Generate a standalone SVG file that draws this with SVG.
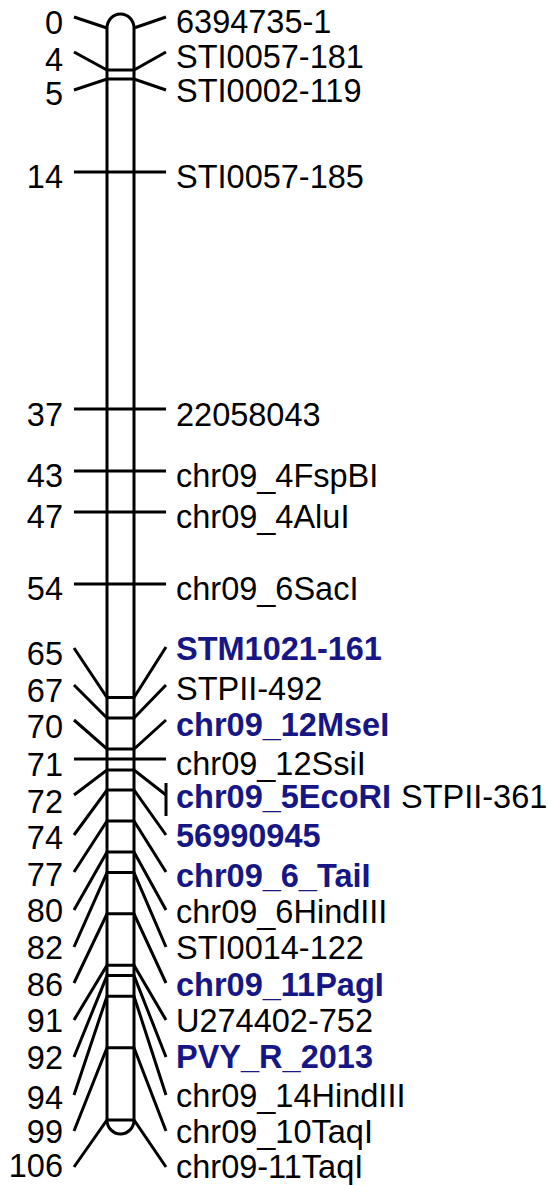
<svg xmlns="http://www.w3.org/2000/svg" width="548" height="1185" viewBox="0 0 548 1185">
  <style>
    text { font-family: "Liberation Sans", Arial, sans-serif; font-size: 32.5px; fill: #000; }
    .pos { text-anchor: end; }
    .hl { fill: #161686; font-weight: bold; }
    .ln { stroke: #000; stroke-width: 3; fill: none; stroke-linecap: butt; }
  </style>
  <rect width="548" height="1185" fill="#fff"/>

  <!-- chromosome body -->
  <g id="chromosome">
    <path class="ln" fill="#fff" d="M107,28 A13.5,14 0 0 1 134,28 V1120 A13.5,14 0 0 1 107,1120 Z"/>
  </g>

  <!-- tick lines: left label -> chromosome -> right label -->
  <g id="connectors" class="ln">
    <line x1="74" y1="17" x2="107" y2="28"/>
    <line x1="134" y1="28" x2="166" y2="17"/>
    <polyline points="74,52 107,70 134,70 166,52"/>
    <polyline points="74,90 107,79 134,79 166,90"/>
    <polyline points="74,172 166,172"/>
    <polyline points="74,409 166,409"/>
    <polyline points="74,471 166,471"/>
    <polyline points="74,512 166,512"/>
    <polyline points="74,584 166,584"/>
    <polyline points="74,648 107,697.5 134,697.5 166,647"/>
    <polyline points="74,685 107,718 134,718 166,685"/>
    <polyline points="74,720 107,749 134,749 166,720"/>
    <polyline points="74,759 166,759"/>
    <polyline points="74,795 107,770 134,770 166,795"/>
    <line x1="166" y1="783" x2="166" y2="816"/>
    <polyline points="74,835 107,790 134,790 166,835"/>
    <polyline points="74,872 107,821 134,821 166,872"/>
    <polyline points="74,910 107,852 134,852 166,910"/>
    <polyline points="74,947 107,872.6 134,872.6 166,947"/>
    <polyline points="74,983 107,913.8 134,913.8 166,983"/>
    <polyline points="74,1020 107,965.3 134,965.3 166,1020"/>
    <polyline points="74,1057 107,975.6 134,975.6 166,1057"/>
    <polyline points="74,1095 107,996.2 134,996.2 166,1095"/>
    <polyline points="74,1131 107,1047.7 134,1047.7 166,1131"/>
    <polyline points="74,1167 107,1120 134,1120 166,1167"/>
  </g>

  <!-- markers: position (cM) on the left, marker name on the right -->
  <g id="m0"><text class="pos" x="63" y="34">0</text><text x="176" y="33">6394735-1</text></g>
  <g id="m4"><text class="pos" x="63" y="71">4</text><text x="176" y="68">STI0057-181</text></g>
  <g id="m5"><text class="pos" x="63" y="105">5</text><text x="176" y="102">STI0002-119</text></g>
  <g id="m14"><text class="pos" x="63" y="188">14</text><text x="176" y="188">STI0057-185</text></g>
  <g id="m37"><text class="pos" x="63" y="426">37</text><text x="176" y="426">22058043</text></g>
  <g id="m43"><text class="pos" x="63" y="487">43</text><text x="176" y="487">chr09_4FspBI</text></g>
  <g id="m47"><text class="pos" x="63" y="528">47</text><text x="176" y="528">chr09_4AluI</text></g>
  <g id="m54"><text class="pos" x="63" y="600">54</text><text x="176" y="600">chr09_6SacI</text></g>
  <g id="m65"><text class="pos" x="63" y="665">65</text><text class="hl" x="176" y="660">STM1021-161</text></g>
  <g id="m67"><text class="pos" x="63" y="702">67</text><text x="176" y="700">STPII-492</text></g>
  <g id="m70"><text class="pos" x="63" y="738">70</text><text class="hl" x="176" y="736">chr09_12MseI</text></g>
  <g id="m71"><text class="pos" x="63" y="776">71</text><text x="176" y="775">chr09_12SsiI</text></g>
  <g id="m72"><text class="pos" x="63" y="813">72</text><text class="hl" x="176" y="808">chr09_5EcoRI</text><text x="401" y="808">STPII-361</text></g>
  <g id="m74"><text class="pos" x="63" y="849">74</text><text class="hl" x="176" y="847">56990945</text></g>
  <g id="m77"><text class="pos" x="63" y="886">77</text><text class="hl" x="176" y="887">chr09_6_TaiI</text></g>
  <g id="m80"><text class="pos" x="63" y="922">80</text><text x="176" y="923">chr09_6HindIII</text></g>
  <g id="m82"><text class="pos" x="63" y="959">82</text><text x="176" y="959">STI0014-122</text></g>
  <g id="m86"><text class="pos" x="63" y="996">86</text><text class="hl" x="176" y="996">chr09_11PagI</text></g>
  <g id="m91"><text class="pos" x="63" y="1032">91</text><text x="176" y="1032">U274402-752</text></g>
  <g id="m92"><text class="pos" x="63" y="1069">92</text><text class="hl" x="176" y="1068">PVY_R_2013</text></g>
  <g id="m94"><text class="pos" x="63" y="1109">94</text><text x="176" y="1107">chr09_14HindIII</text></g>
  <g id="m99"><text class="pos" x="63" y="1143">99</text><text x="176" y="1143">chr09_10TaqI</text></g>
  <g id="m106"><text class="pos" x="63" y="1177">106</text><text x="176" y="1178">chr09-11TaqI</text></g>
</svg>
